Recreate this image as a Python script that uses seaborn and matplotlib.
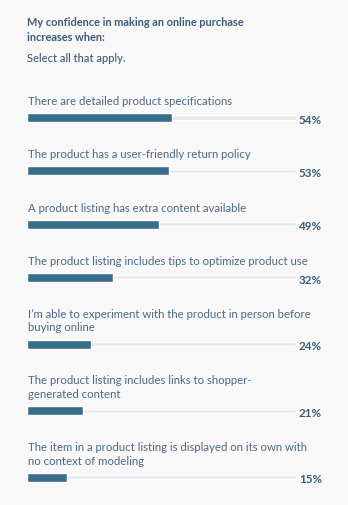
import matplotlib
matplotlib.use("Agg")
import matplotlib.pyplot as plt
import seaborn as sns
import pandas as pd

# ---- data ----
title = "My confidence in making an online purchase\nincreases when:"
subtitle = "Select all that apply."
categories = [
    "There are detailed product specifications",
    "The product has a user-friendly return policy",
    "A product listing has extra content available",
    "The product listing includes tips to optimize product use",
    "I\u2019m able to experiment with the product in person before\nbuying online",
    "The product listing includes links to shopper-\ngenerated content",
    "The item in a product listing is displayed on its own with\nno context of modeling",
]
values = [54, 53, 49, 32, 24, 21, 15]
pct_labels = [f"{v}%" for v in values]

# ---- style ----
W, H = 348, 506
BG = "#f8f8f9"
BAR = "#386d8a"
TRACK = "#e6e9ef"
TXT = "#4b6a86"
TITLE_C = "#3e5c79"

sns.set_theme(style="white")
plt.rcParams["font.family"] = ["Lato", "DejaVu Sans"]

fig = plt.figure(figsize=(W / 100, H / 100), dpi=100, facecolor=BG)

def px(x, y):
    return x / W, 1 - y / H

fig.text(*px(27, 17.5), title, ha="left", va="top", fontsize=7.9,
         fontweight="bold", color=TITLE_C, linespacing=1.35)
fig.text(*px(27, 53.5), subtitle, ha="left", va="top", fontsize=8.0,
         color=TITLE_C, fontweight="medium")

x0, x1 = 27, 295.5
bar_h = 9
y_center = 118.5
for i, (cat, val, lab) in enumerate(zip(categories, values, pct_labels)):
    nlines = cat.count("\n") + 1
    if i > 0:
        y_center += 40 + 13.3 * nlines
    left, bottom = px(x0, y_center + bar_h / 2)
    ax = fig.add_axes([left, bottom, (x1 - x0) / W, bar_h / H])
    ax.set_facecolor("none")
    df = pd.DataFrame({"cat": [cat], "full": [100], "val": [val]})
    sns.barplot(data=df, x="full", y="cat", orient="h", color=TRACK,
                width=0.45, saturation=1, ax=ax)
    sns.barplot(data=df, x="val", y="cat", orient="h", color=BAR,
                width=1.0, saturation=1, ax=ax)
    ax.set_xlim(0, 100)
    ax.set_ylim(0.5, -0.5)
    ax.axis("off")
    ax.annotate(lab, xy=(100, 0), xytext=(2.5, -1.2), textcoords="offset points",
                ha="left", va="center", fontsize=8.4, fontweight="bold",
                color=TITLE_C, annotation_clip=False)
    fig.text(*px(27.5, y_center - 11.5), cat, ha="left", va="bottom",
             fontsize=8.2, color=TXT, linespacing=1.3)

fig.savefig("out.png", dpi=100, facecolor=BG)
